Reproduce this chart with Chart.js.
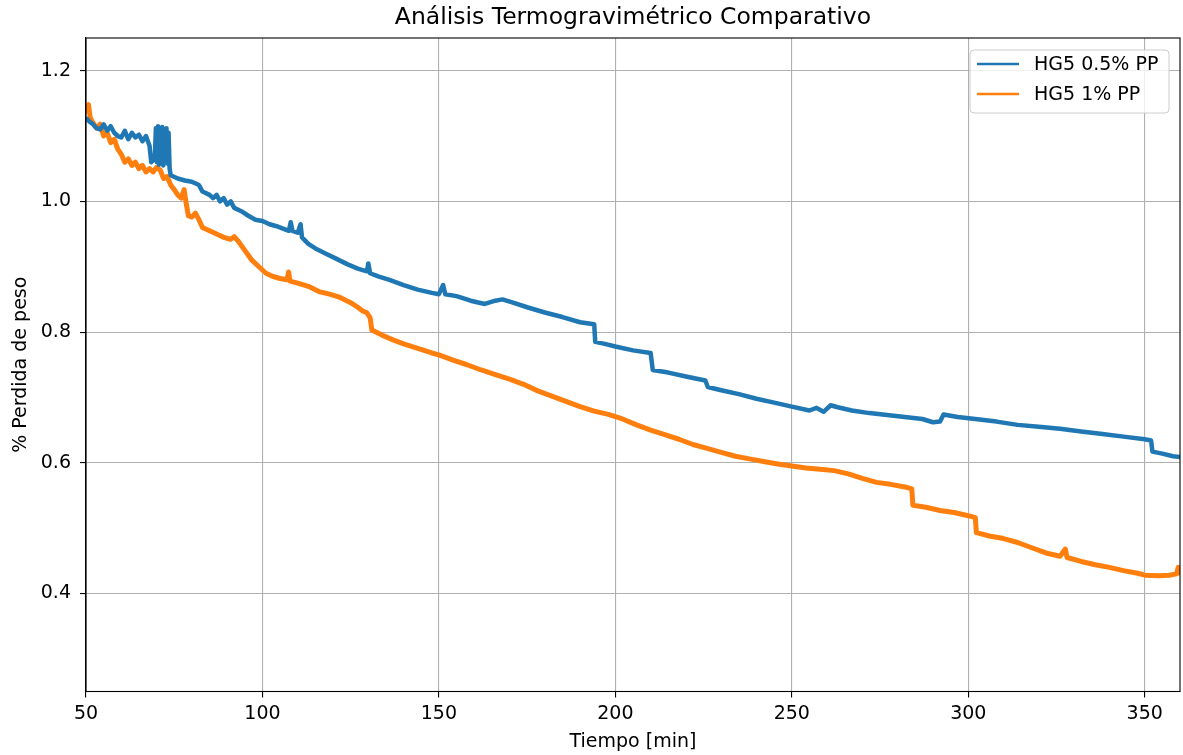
<!DOCTYPE html>
<html>
<head>
<meta charset="utf-8">
<script src="https://cdn.jsdelivr.net/npm/chart.js@4/dist/chart.umd.min.js"></script>
<style>
  html, body { margin: 0; padding: 0; background: #ffffff; }
  canvas { display: block; }
</style>
</head>
<body>
<canvas id="c" width="1183" height="755"></canvas>
<script>
// ---- Data ----
const chartTitle = "Análisis Termogravimétrico Comparativo";
const xAxisLabel = "Tiempo [min]";
const yAxisLabel = "% Perdida de peso";
const seriesLabels = ["HG5 0.5% PP", "HG5 1% PP"];
const seriesColors = ["#1f77b4", "#ff7f0e"];

const xTicks = [50, 100, 150, 200, 250, 300, 350];
const yTicks = [0.4, 0.6, 0.8, 1.0, 1.2];

const blueTime = [50,51,52,53,54,55,56,57,58,59,60,61,62,63,64,65,66,67,68,68.5,69.5,69.8,70.1,70.4,70.7,71.0,71.3,71.6,71.9,72.2,72.5,72.8,73.1,73.4,73.7,74,76,78,80,82,83,85,86,87,88,89,90,91,92,94,96,98,100,102,104,106,107.5,108,108.5,110,110.8,111.2,113,115,118,121,124,127,129.6,130,130.5,133,136,140,144,148,150,151.2,151.8,155,159,163,166,168,171,175,180,185,190,194,194.3,197,200,205,210,210.6,215,220,225.5,226.2,230,235,240,245,250,255,257,259,261,263,267,272,277,282,287,290,292,293,297,302,308,314,320,326,332,338,344,350,351.8,352.2,355,358,360];
const blueValues = [1.128,1.122,1.118,1.112,1.110,1.118,1.108,1.115,1.105,1.100,1.098,1.108,1.095,1.105,1.098,1.102,1.092,1.100,1.085,1.060,1.065,1.112,1.060,1.115,1.056,1.112,1.060,1.114,1.055,1.110,1.062,1.112,1.058,1.105,1.050,1.040,1.035,1.032,1.030,1.025,1.015,1.010,1.005,1.010,1.000,1.005,0.995,1.000,0.990,0.985,0.978,0.972,0.970,0.965,0.962,0.958,0.955,0.968,0.955,0.952,0.965,0.945,0.935,0.928,0.920,0.912,0.904,0.897,0.893,0.905,0.890,0.885,0.880,0.872,0.865,0.860,0.858,0.872,0.858,0.855,0.848,0.843,0.848,0.850,0.845,0.838,0.830,0.823,0.815,0.812,0.785,0.782,0.778,0.772,0.768,0.742,0.738,0.732,0.726,0.716,0.711,0.705,0.698,0.692,0.686,0.680,0.684,0.678,0.688,0.685,0.680,0.676,0.673,0.670,0.667,0.662,0.663,0.674,0.670,0.667,0.663,0.658,0.655,0.652,0.648,0.644,0.640,0.636,0.634,0.617,0.614,0.610,0.609];

const orangeTime = [50,50.7,51.2,52,53,54,55,56,57,58,59,60,61,62,63,64,65,66,67,68,69,70,71,72,73,74,75,76,77,77.8,78.3,79,80,81,82,83,85,87,89,91,92,93,95,97,99,101,103,105,107,107.4,107.8,110,113,116,119,122,125,127,128.5,129.5,130.5,131,134,137,140,144,148,150,154,158,162,166,170,174,178,182,186,190,194,198,202,206,210,214,218,222,226,230,234,238,242,246,250,254,258,262,266,270,274,278,282,284,284.3,288,292,296,300,302,302.3,306,310,314,318,322,326,327.5,328,332,336,340,344,348,350,354,357,359,359.5,360];
const orangeValues = [1.135,1.148,1.128,1.120,1.112,1.118,1.100,1.105,1.090,1.095,1.080,1.072,1.060,1.065,1.055,1.060,1.050,1.055,1.045,1.050,1.045,1.052,1.048,1.035,1.038,1.025,1.018,1.010,1.005,1.018,1.000,0.978,0.976,0.982,0.972,0.960,0.955,0.950,0.945,0.942,0.946,0.940,0.925,0.910,0.900,0.890,0.885,0.882,0.880,0.892,0.878,0.875,0.870,0.862,0.858,0.853,0.845,0.838,0.832,0.830,0.822,0.803,0.795,0.788,0.782,0.775,0.768,0.765,0.757,0.750,0.742,0.735,0.728,0.720,0.710,0.702,0.694,0.686,0.679,0.674,0.667,0.658,0.650,0.643,0.636,0.628,0.622,0.616,0.610,0.606,0.602,0.598,0.595,0.592,0.590,0.588,0.583,0.576,0.570,0.567,0.563,0.560,0.535,0.532,0.527,0.524,0.519,0.516,0.493,0.488,0.484,0.478,0.470,0.462,0.457,0.468,0.455,0.449,0.444,0.440,0.435,0.431,0.428,0.427,0.428,0.430,0.440,0.428];

// ---- Build datasets from the arrays ----
function toPoints(xs, ys) { return xs.map((x, i) => ({ x: x, y: ys[i] })); }

const FONT = "'DejaVu Sans', 'Liberation Sans', sans-serif";

const frame = {
  id: 'frame',
  afterDatasetsDraw(chart) {
    const { ctx, chartArea: a } = chart;
    ctx.save();
    ctx.strokeStyle = '#000';
    ctx.lineWidth = 1.1;
    ctx.strokeRect(a.left, a.top, a.right - a.left, a.bottom - a.top);
    ctx.restore();
  }
};

const legendBox = {
  id: 'legendBox',
  afterDraw(chart) {
    const { ctx, chartArea: a } = chart;
    const w = 199, h = 63;
    const x = a.right - 11 - w, y = a.top + 12;
    const r = 4;
    ctx.save();
    ctx.beginPath();
    ctx.moveTo(x + r, y);
    ctx.lineTo(x + w - r, y);
    ctx.arcTo(x + w, y, x + w, y + r, r);
    ctx.lineTo(x + w, y + h - r);
    ctx.arcTo(x + w, y + h, x + w - r, y + h, r);
    ctx.lineTo(x + r, y + h);
    ctx.arcTo(x, y + h, x, y + h - r, r);
    ctx.lineTo(x, y + r);
    ctx.arcTo(x, y, x + r, y, r);
    ctx.closePath();
    ctx.fillStyle = 'rgba(255,255,255,0.8)';
    ctx.fill();
    ctx.strokeStyle = '#cccccc';
    ctx.lineWidth = 1;
    ctx.stroke();
    chart.data.datasets.forEach((ds, i) => {
      const ly = y + 14 + i * 30;
      ctx.beginPath();
      ctx.moveTo(x + 7, ly);
      ctx.lineTo(x + 49, ly);
      ctx.strokeStyle = ds.borderColor;
      ctx.lineWidth = 2.3;
      ctx.stroke();
      ctx.fillStyle = '#000';
      ctx.font = "19px " + FONT;
      ctx.textBaseline = 'middle';
      ctx.textAlign = 'left';
      ctx.fillText(ds.label, x + 64, ly + 1);
    });
    ctx.restore();
  }
};

new Chart(document.getElementById('c'), {
  type: 'line',
  data: {
    datasets: [
      { label: seriesLabels[0], data: toPoints(blueTime, blueValues), borderColor: seriesColors[0],
        backgroundColor: seriesColors[0], borderWidth: 4.5, borderJoinStyle: 'round', borderCapStyle: 'butt',
        pointRadius: 0, tension: 0, fill: false },
      { label: seriesLabels[1], data: toPoints(orangeTime, orangeValues), borderColor: seriesColors[1],
        backgroundColor: seriesColors[1], borderWidth: 5, borderJoinStyle: 'round', borderCapStyle: 'butt',
        pointRadius: 0, tension: 0, fill: false }
    ]
  },
  options: {
    responsive: false,
    animation: false,
    devicePixelRatio: 1,
    layout: { padding: { left: 0, right: 3, top: 0, bottom: 0 } },
    plugins: {
      legend: { display: false },
      tooltip: { enabled: false },
      title: {
        display: true, fullSize: false, text: chartTitle, color: '#000',
        font: { family: FONT, size: 23.5, weight: 'normal', lineHeight: 1.2 },
        padding: { top: 4, bottom: 5.8 }
      }
    },
    scales: {
      x: {
        type: 'linear', min: 50, max: 360,
        afterBuildTicks: (s) => { s.ticks = xTicks.map(v => ({ value: v })); },
        afterFit: (s) => { s.height = 63.5; },
        ticks: { color: '#000', font: { family: FONT, size: 19 }, padding: 5, maxRotation: 0, autoSkip: false,
                 callback: (v) => String(v) },
        grid: { color: '#b0b0b0', lineWidth: 1.1, tickColor: '#000', tickLength: 6, tickWidth: 1.1, drawTicks: true },
        border: { display: true, color: '#000', width: 1.1 },
        title: { display: true, text: xAxisLabel, color: '#000', font: { family: FONT, size: 19, lineHeight: 1.2 },
                 padding: { top: 0, bottom: 2 } }
      },
      y: {
        type: 'linear', min: 0.25, max: 1.25,
        afterBuildTicks: (s) => { s.ticks = yTicks.map(v => ({ value: v })); },
        afterFit: (s) => { s.width = 86; },
        ticks: { color: '#000', font: { family: FONT, size: 19 }, padding: 9, autoSkip: false,
                 callback: (v) => Number(v).toFixed(1) },
        grid: { color: '#b0b0b0', lineWidth: 1.1, tickColor: '#000', tickLength: 6, tickWidth: 1.1, drawTicks: true },
        border: { display: true, color: '#000', width: 1.1 },
        title: { display: true, text: yAxisLabel, color: '#000', font: { family: FONT, size: 19, lineHeight: 1.2 },
                 padding: { top: 10, bottom: 0 } }
      }
    }
  },
  plugins: [frame, legendBox]
});
</script>
</body>
</html>
